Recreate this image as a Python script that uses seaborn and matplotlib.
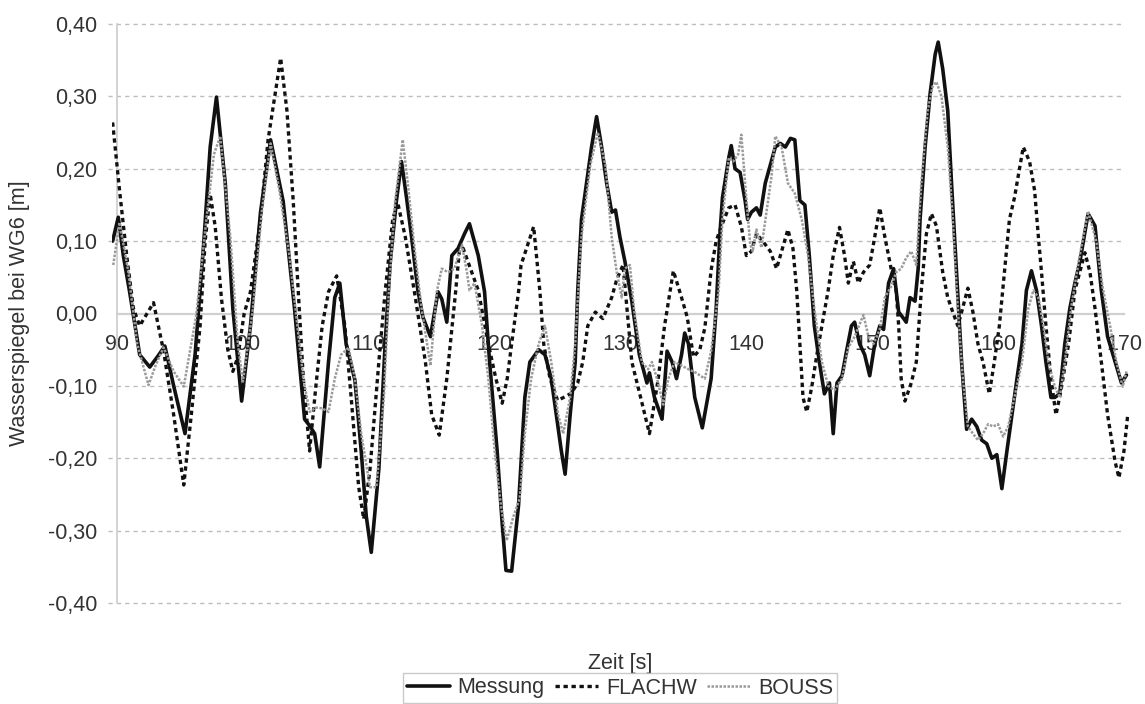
import numpy as np
import pandas as pd
import matplotlib
matplotlib.use("Agg")
import matplotlib.pyplot as plt
from matplotlib.ticker import FuncFormatter
import seaborn as sns

# --- water level at gauge WG6: time [s] and level [m] per series ---
t_mess = [89.65, 90.1, 90.5, 91.0, 91.8, 92.6, 93.2, 93.8, 94.5, 95.4, 96.2, 96.9, 97.4, 97.9,
          98.6, 99.2, 99.9, 100.6, 101.4, 102.2, 103.2, 104.1, 104.9, 105.3, 105.7, 106.1,
          106.8, 107.3, 107.7, 108.2, 108.9, 109.4, 109.8, 110.2, 110.8, 111.3, 111.7, 112.2,
          112.6, 113.0, 113.4, 113.9, 114.3, 114.9, 115.5, 115.8, 116.2, 116.6, 117.1, 117.6,
          118.0, 118.7, 119.2, 119.6, 120.2, 120.6, 120.9, 121.35, 121.9, 122.4, 122.8, 123.5,
          124.0, 124.5, 124.9, 125.3, 125.6, 126.0, 126.4, 126.6, 126.9, 127.3, 127.7, 128.1,
          128.5, 128.9, 129.3, 129.6, 129.95, 130.35, 130.9, 131.5, 132.1, 132.3, 132.7, 133.3,
          133.7, 134.1, 134.45, 134.85, 135.1, 135.4, 135.9, 136.5, 137.2, 137.6, 137.9, 138.1,
          138.6, 138.8, 139.1, 139.5, 139.9, 140.1, 140.4, 140.8, 141.1, 141.5, 141.9, 142.3,
          142.7, 143.1, 143.5, 143.85, 144.25, 144.65, 145.0, 145.4, 145.8, 146.2, 146.6, 146.9,
          147.2, 147.6, 147.96, 148.35, 148.6, 149.0, 149.4, 149.8, 150.2, 150.6, 150.9, 151.3,
          151.7, 152.1, 152.5, 152.7, 153.0, 153.4, 153.65, 153.8, 154.2, 154.6, 155.0, 155.24,
          155.6, 156.0, 156.3, 156.7, 157.1, 157.5, 157.9, 158.3, 158.7, 159.1, 159.5, 159.9,
          160.3, 160.7, 161.1, 161.5, 161.9, 162.25, 162.65, 163.05, 163.45, 163.8, 164.2,
          164.5, 164.9, 165.3, 165.7, 166.1, 166.5, 167.15, 167.7, 168.2, 168.7, 169.3, 169.8,
          170.2]
y_mess = [0.10, 0.133, 0.08, 0.03, -0.057, -0.074, -0.06, -0.045, -0.10, -0.166, -0.057, 0.10,
          0.23, 0.299, 0.18, 0.007, -0.121, -0.017, 0.14, 0.24, 0.155, 0.007, -0.146, -0.155,
          -0.166, -0.212, -0.067, 0.022, 0.042, -0.042, -0.092, -0.19, -0.28, -0.33, -0.215,
          -0.042, 0.07, 0.156, 0.21, 0.16, 0.106, 0.032, -0.005, -0.032, 0.03, 0.02, -0.012,
          0.08, 0.09, 0.11, 0.124, 0.08, 0.03, -0.067, -0.19, -0.29, -0.355, -0.356, -0.265,
          -0.116, -0.067, -0.05, -0.057, -0.09, -0.14, -0.19, -0.222, -0.14, -0.067, 0.03, 0.13,
          0.18, 0.23, 0.272, 0.23, 0.18, 0.14, 0.143, 0.106, 0.072, 0.017, -0.057, -0.096,
          -0.082, -0.116, -0.146, -0.052, -0.067, -0.09, -0.057, -0.027, -0.042, -0.116, -0.158,
          -0.09, 0.007, 0.11, 0.16, 0.215, 0.232, 0.20, 0.195, 0.156, 0.13, 0.14, 0.146, 0.136,
          0.18, 0.205, 0.23, 0.235, 0.23, 0.242, 0.24, 0.156, 0.15, 0.08, -0.017, -0.067,
          -0.111, -0.096, -0.166, -0.096, -0.086, -0.052, -0.017, -0.012, -0.042, -0.057,
          -0.086, -0.042, -0.017, -0.022, 0.042, 0.062, 0.002, -0.007, -0.012, 0.022, 0.017,
          0.062, 0.13, 0.23, 0.304, 0.358, 0.375, 0.338, 0.28, 0.18, 0.057, -0.067, -0.16,
          -0.146, -0.156, -0.175, -0.18, -0.20, -0.195, -0.242, -0.19, -0.14, -0.09, -0.042,
          0.032, 0.059, 0.032, -0.017, -0.067, -0.116, -0.116, -0.111, -0.042, 0.007, 0.042,
          0.072, 0.138, 0.121, 0.032, -0.032, -0.067, -0.096, -0.085]

t_flach = [89.65, 90.2, 90.77, 91.3, 91.8, 92.9, 93.7, 94.5, 95.3, 95.9, 96.6, 97.0, 97.4, 97.8,
           98.3, 98.8, 99.2, 99.6, 100.1, 100.6, 101.4, 102.0, 103.0, 103.5, 104.0, 104.4,
           104.8, 105.3, 105.8, 106.3, 106.8, 107.45, 108.1, 108.6, 109.2, 109.6, 110.1, 110.8,
           111.3, 111.9, 112.3, 112.9, 113.7, 114.5, 115.0, 115.6, 116.2, 116.9, 117.2, 117.5,
           118.7, 119.5, 120.1, 120.6, 121.0, 121.35, 121.9, 122.1, 123.1, 123.6, 123.9, 124.4,
           125.0, 125.6, 126.1, 126.6, 127.0, 127.4, 128.0, 128.6, 129.3, 129.7, 130.2, 130.9,
           131.6, 132.3, 133.0, 133.5, 134.2, 134.85, 135.3, 135.8, 136.3, 136.7, 137.2, 137.6,
           138.0, 138.6, 139.1, 139.6, 140.0, 140.4, 140.8, 141.3, 141.9, 142.4, 142.8, 143.3,
           143.7, 144.0, 144.25, 144.5, 144.8, 145.2, 145.6, 146.0, 146.5, 146.9, 147.4, 147.8,
           148.1, 148.5, 148.9, 149.3, 149.8, 150.2, 150.6, 151.0, 151.5, 151.9, 152.1, 152.3,
           152.6, 153.1, 153.5, 153.9, 154.3, 154.7, 155.1, 155.6, 156.0, 156.4, 156.8, 157.1,
           157.6, 158.0, 158.4, 158.8, 159.3, 159.7, 160.1, 160.5, 160.9, 161.3, 161.6, 162.0,
           162.5, 162.9, 163.2, 163.45, 163.8, 164.2, 164.6, 165.0, 165.6, 166.1, 166.9, 167.3,
           167.7, 168.2, 168.7, 169.3, 169.6, 170.0, 170.3]
y_flach = [0.264, 0.17, 0.08, 0.007, -0.017, 0.015, -0.052, -0.14, -0.237, -0.14, -0.017, 0.10,
           0.165, 0.12, 0.02, -0.05, -0.08, -0.06, 0.0, 0.03, 0.13, 0.24, 0.353, 0.28, 0.155,
           0.03, -0.09, -0.19, -0.10, -0.017, 0.03, 0.052, -0.017, -0.116, -0.24, -0.284,
           -0.215, -0.067, 0.03, 0.13, 0.153, 0.106, 0.022, -0.067, -0.14, -0.168, -0.09, 0.03,
           0.087, 0.09, 0.032, -0.042, -0.09, -0.124, -0.09, -0.042, 0.03, 0.067, 0.12, 0.03,
           -0.042, -0.09, -0.12, -0.115, -0.11, -0.096, -0.067, -0.017, 0.002, -0.007, 0.022,
           0.047, 0.067, -0.067, -0.116, -0.166, -0.09, -0.017, 0.059, 0.022, -0.005, -0.06,
           -0.05, -0.02, 0.06, 0.10, 0.12, 0.146, 0.15, 0.12, 0.08, 0.086, 0.11, 0.10, 0.086,
           0.062, 0.086, 0.116, 0.09, 0.032, -0.042, -0.116, -0.136, -0.101, -0.057, -0.017,
           0.032, 0.08, 0.119, 0.08, 0.042, 0.072, 0.042, 0.057, 0.067, 0.106, 0.146, 0.106,
           0.062, 0.032, -0.017, -0.09, -0.121, -0.096, -0.067, 0.032, 0.11, 0.138, 0.121,
           0.057, 0.022, 0.002, -0.017, 0.002, 0.035, 0.002, -0.042, -0.067, -0.111, -0.067,
           -0.017, 0.057, 0.13, 0.16, 0.19, 0.23, 0.21, 0.17, 0.106, 0.057, -0.017, -0.09,
           -0.14, -0.106, -0.042, 0.032, 0.084, 0.057, 0.007, -0.067, -0.14, -0.205, -0.227,
           -0.19, -0.14]

t_bouss = [89.7, 90.2, 90.9, 91.6, 92.5, 93.1, 93.7, 94.5, 95.3, 96.3, 97.1, 97.7, 98.2, 99.0,
           99.6, 100.0, 100.8, 101.5, 102.2, 102.9, 103.7, 104.8, 105.3, 105.8, 106.3, 106.8,
           107.3, 107.8, 108.4, 108.9, 109.4, 110.1, 110.6, 111.2, 111.6, 112.1, 112.7, 113.1,
           113.7, 114.2, 114.9, 115.4, 115.8, 116.3, 116.8, 117.4, 117.8, 118.0, 118.4, 119.0,
           119.5, 120.0, 120.5, 120.95, 121.5, 122.0, 122.4, 122.9, 123.5, 124.0, 124.5, 125.05,
           125.45, 126.0, 126.4, 126.9, 127.6, 128.2, 128.8, 129.3, 129.7, 130.1, 130.35, 130.75,
           131.1, 131.7, 132.2, 132.5, 132.9, 133.4, 133.8, 134.3, 134.85, 135.4, 136.0, 136.7,
           137.2, 137.8, 138.1, 138.6, 138.95, 139.35, 139.6, 139.9, 140.3, 140.5, 140.8, 141.2,
           141.6, 142.0, 142.3, 142.8, 143.3, 143.85, 144.4, 144.9, 145.4, 146.0, 146.5, 147.0,
           147.6, 148.1, 148.6, 149.3, 149.7, 150.1, 150.6, 151.0, 151.5, 151.9, 152.3, 152.7,
           153.1, 153.5, 153.9, 154.4, 154.8, 155.1, 155.5, 156.0, 156.4, 156.8, 157.2, 157.6,
           158.0, 158.4, 158.8, 159.2, 159.6, 160.0, 160.4, 160.8, 161.3, 161.9, 162.4, 162.8,
           163.2, 163.6, 164.0, 164.5, 164.9, 165.3, 165.8, 166.4, 167.15, 167.8, 168.3, 168.9,
           169.4, 169.9, 170.2]
y_bouss = [0.067, 0.126, 0.057, -0.042, -0.099, -0.07, -0.047, -0.08, -0.101, -0.002, 0.13,
           0.22, 0.245, 0.106, -0.042, -0.094, 0.007, 0.14, 0.235, 0.17, 0.08, -0.09, -0.136,
           -0.13, -0.131, -0.136, -0.09, -0.057, -0.047, -0.09, -0.166, -0.24, -0.24, -0.116,
           0.032, 0.156, 0.24, 0.18, 0.08, 0.007, -0.072, 0.03, 0.062, 0.057, 0.062, 0.095,
           0.057, 0.032, 0.042, -0.017, -0.09, -0.19, -0.265, -0.314, -0.28, -0.255, -0.166,
           -0.09, -0.042, -0.017, -0.067, -0.14, -0.166, -0.116, -0.042, 0.106, 0.205, 0.25,
           0.205, 0.106, 0.057, 0.022, 0.062, 0.067, 0.002, -0.067, -0.077, -0.067, -0.09,
           -0.126, -0.09, -0.067, -0.072, -0.077, -0.082, -0.09, -0.052, 0.032, 0.13, 0.215,
           0.21, 0.22, 0.247, 0.18, 0.096, 0.086, 0.116, 0.091, 0.14, 0.19, 0.245, 0.23, 0.18,
           0.166, 0.13, 0.08, 0.007, -0.067, -0.10, -0.106, -0.09, -0.047, -0.032, -0.002,
           -0.032, -0.042, -0.022, 0.022, 0.037, 0.057, 0.062, 0.077, 0.086, 0.067, 0.18, 0.28,
           0.314, 0.32, 0.30, 0.23, 0.13, 0.007, -0.09, -0.156, -0.166, -0.175, -0.166, -0.153,
           -0.156, -0.153, -0.17, -0.156, -0.116, -0.067, 0.007, 0.032, 0.022, -0.017, -0.067,
           -0.101, -0.116, -0.067, 0.007, 0.072, 0.141, 0.10, 0.037, -0.017, -0.067, -0.101,
           -0.08]

series_names = ["Messung", "FLACHW", "BOUSS"]
x_ticks = list(range(90, 171, 10))
y_ticks = [-0.4, -0.3, -0.2, -0.1, 0.0, 0.1, 0.2, 0.3, 0.4]

sns.set_theme(style="white")
plt.rcParams["font.family"] = ["Liberation Sans", "DejaVu Sans"]
text_col = "#333333"
fs = 15.5

W, H = 1145, 704
fig = plt.figure(figsize=(W / 100, H / 100), dpi=100)
ax = fig.add_axes([112 / W, 1 - 603 / H, (1129 - 112) / W, (603 - 24) / H])
ax.set_xlim(89.6, 170.4)
ax.set_ylim(-0.4, 0.4)

# dashed horizontal grid (zero line is drawn by the x axis)
for v in y_ticks:
    if v != 0.0:
        ax.plot([89.3, 170], [v, v], color="#bdbdbd", lw=1.0,
                linestyle=(0, (3, 3)), clip_on=False, zorder=0.5)

styles = {
    "Messung": dict(color="#111111", linewidth=2.6, linestyle="-"),
    "FLACHW": dict(color="#111111", linewidth=2.4, linestyle=(0, (1.3, 1.1))),
    "BOUSS": dict(color="#9a9a9a", linewidth=1.8, linestyle=(0, (1, 0.6))),
}
data = {
    "Messung": (t_mess, y_mess),
    "FLACHW": (t_flach, y_flach),
    "BOUSS": (t_bouss, y_bouss),
}
for name in series_names:
    tt, yy = data[name]
    df = pd.DataFrame({"t": tt, "y": yy})
    sns.lineplot(data=df, x="t", y="y", ax=ax, estimator=None, sort=False,
                 label=name, zorder=3, **styles[name])

# axes: left line at t=90, horizontal axis through zero
for s in ["top", "right"]:
    ax.spines[s].set_visible(False)
ax.spines["left"].set_position(("data", 90))
ax.spines["left"].set_color("#d0d0d0")
ax.spines["left"].set_linewidth(1.3)
ax.spines["bottom"].set_position(("data", 0))
ax.spines["bottom"].set_color("#d0d0d0")
ax.spines["bottom"].set_linewidth(1.6)
ax.spines["bottom"].set_bounds(90, 170)

ax.set_xticks(x_ticks)
ax.set_yticks(y_ticks)
ax.yaxis.set_major_formatter(FuncFormatter(lambda v, p: f"{v:.2f}".replace(".", ",")))
ax.tick_params(axis="y", length=0, pad=14, labelsize=fs, labelcolor=text_col)
ax.tick_params(axis="x", length=5, direction="inout", color="#c8c8c8", width=1,
               pad=12, labelsize=fs, labelcolor=text_col)
ax.set_xlabel("")
ax.set_ylabel("")
ax.legend_.remove()

fig.text(620 / W, 1 - 664 / H, "Zeit [s]", ha="center", va="center",
         fontsize=fs, color=text_col)
fig.text(20 / W, 1 - 313 / H, "Wasserspiegel bei WG6 [m]", ha="center", va="center",
         rotation=90, fontsize=fs, color=text_col)

handles, labels = ax.get_legend_handles_labels()
leg = fig.legend(handles, labels, loc="center", bbox_to_anchor=(620 / W, 1 - 688 / H),
                 ncol=3, frameon=True, fancybox=False, fontsize=fs, handlelength=2.0,
                 columnspacing=0.5, handletextpad=0.35, borderpad=0.2)
leg.get_frame().set_edgecolor("#bdbdbd")
leg.get_frame().set_linewidth(1.0)
for txt in leg.get_texts():
    txt.set_color(text_col)

fig.savefig("out.png", dpi=100, facecolor="white")
